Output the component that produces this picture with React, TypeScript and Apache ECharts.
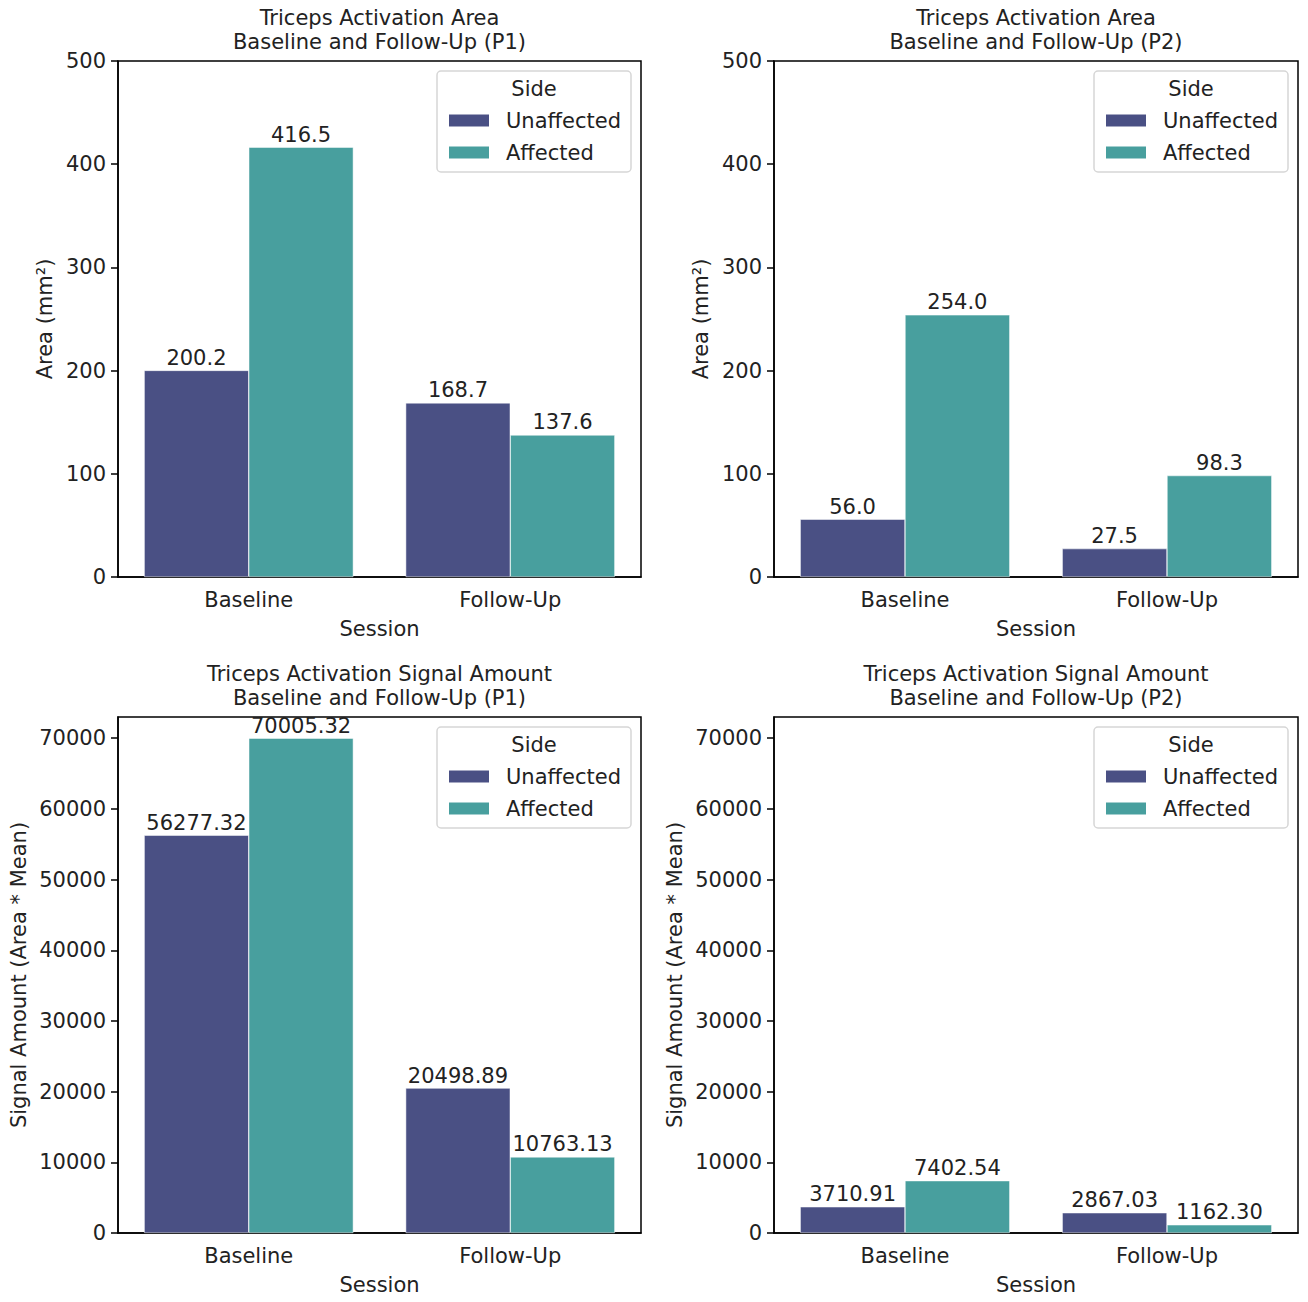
import React, { useEffect, useRef } from "react";
import * as echarts from "echarts";

const sessions = ["Baseline", "Follow-Up"];
const sides = ["Unaffected", "Affected"];

const areaP1Unaffected = [200.2, 168.7];
const areaP1Affected = [416.5, 137.6];
const areaP2Unaffected = [56.0, 27.5];
const areaP2Affected = [254.0, 98.3];

const signalP1Unaffected = [56277.32, 20498.89];
const signalP1Affected = [70005.32, 10763.13];
const signalP2Unaffected = [3710.91, 2867.03];
const signalP2Affected = [7402.54, 1162.3];

const areaTicks = [0, 100, 200, 300, 400, 500];
const signalTicks = [0, 10000, 20000, 30000, 40000, 50000, 60000, 70000];

const areaMax = 500;
const signalMax = 73000;

const titleTexts = [
  "Triceps Activation Area\nBaseline and Follow-Up (P1)",
  "Triceps Activation Area\nBaseline and Follow-Up (P2)",
  "Triceps Activation Signal Amount\nBaseline and Follow-Up (P1)",
  "Triceps Activation Signal Amount\nBaseline and Follow-Up (P2)",
];
const yNames = ["Area (mm²)", "Area (mm²)", "Signal Amount (Area * Mean)", "Signal Amount (Area * Mean)"];
const xName = "Session";
const legendTitle = "Side";

const colors = ["#4a5084", "#489f9e"];
const FONT = "DejaVu Sans";
const TXT = "#222222";
const FS = 21;

export default function App() {
  const ref = useRef<HTMLDivElement>(null);

  useEffect(() => {
    if (!ref.current) return;
    const chart = echarts.init(ref.current, null, { renderer: "svg" });

    const panels = [
      { u: areaP1Unaffected, a: areaP1Affected, ticks: areaTicks, max: areaMax, dec: 1, gap: 63 },
      { u: areaP2Unaffected, a: areaP2Affected, ticks: areaTicks, max: areaMax, dec: 1, gap: 63 },
      { u: signalP1Unaffected, a: signalP1Affected, ticks: signalTicks, max: signalMax, dec: 2, gap: 89 },
      { u: signalP2Unaffected, a: signalP2Affected, ticks: signalTicks, max: signalMax, dec: 2, gap: 89 },
    ];
    const lefts = [118, 774];
    const widths = [523, 524];
    const tops = [61, 717];
    const H = 516;

    const grids: any[] = [];
    const xAxes: any[] = [];
    const yAxes: any[] = [];
    const series: any[] = [];
    const titles: any[] = [];
    const legends: any[] = [];
    const graphics: any[] = [];

    panels.forEach((p, i) => {
      const col = i % 2;
      const row = Math.floor(i / 2);
      const L = lefts[col];
      const W = widths[col];
      const T = tops[row];
      grids.push({
        left: L,
        top: T,
        width: W,
        height: H,
        show: true,
        borderColor: "#000",
        borderWidth: 1.5,
        backgroundColor: "transparent",
        containLabel: false,
        outerBoundsMode: "none",
      });
      xAxes.push({
        type: "category",
        gridIndex: i,
        data: sessions,
        boundaryGap: true,
        axisLine: { lineStyle: { color: "#000", width: 1.5 } },
        axisTick: { alignWithLabel: true, length: 7, lineStyle: { color: "#000", width: 1.5 } },
        axisLabel: { fontSize: FS, color: TXT, fontFamily: FONT, margin: 12 },
        splitLine: { show: false },
        name: xName,
        nameLocation: "middle",
        nameGap: 41,
        nameTextStyle: { fontSize: FS, color: TXT, fontFamily: FONT },
      });
      yAxes.push({
        type: "value",
        gridIndex: i,
        min: 0,
        max: p.max,
        interval: p.ticks[1] - p.ticks[0],
        axisLine: { show: true, lineStyle: { color: "#000", width: 1.5 } },
        axisTick: { show: true, length: 7, customValues: p.ticks, lineStyle: { color: "#000", width: 1.5 } },
        axisLabel: {
          fontSize: FS,
          color: TXT,
          fontFamily: FONT,
          margin: 12,
          customValues: p.ticks,
          formatter: (v: number) => String(v),
        },
        splitLine: { show: false },
        name: yNames[i],
        nameLocation: "middle",
        nameRotate: 90,
        nameGap: p.gap,
        nameTextStyle: { fontSize: FS, color: TXT, fontFamily: FONT },
      });
      [p.u, p.a].forEach((vals, k) => {
        series.push({
          type: "bar",
          name: sides[k],
          xAxisIndex: i,
          yAxisIndex: i,
          data: vals,
          barWidth: "40%",
          barGap: "0%",
          itemStyle: { color: colors[k], borderColor: "#ffffff", borderWidth: 0.5 },
          label: {
            show: true,
            position: "top",
            distance: 2,
            fontSize: FS,
            color: TXT,
            fontFamily: FONT,
            formatter: (q: any) => Number(q.value).toFixed(p.dec),
          },
        });
      });
      titles.push({
        text: titleTexts[i],
        left: L + W / 2,
        top: T - 55,
        padding: 0,
        textAlign: "center",
        textStyle: { fontSize: FS, fontWeight: "normal", color: TXT, fontFamily: FONT, lineHeight: 24 },
      });
      const boxW = 194;
      const boxH = 101;
      const boxL = L + W - 10 - boxW;
      const boxT = T + 10;
      graphics.push({
        type: "rect",
        z: 3,
        shape: { x: boxL, y: boxT, width: boxW, height: boxH, r: 4 },
        style: { fill: "rgba(255,255,255,0.8)", stroke: "#d6d6d6", lineWidth: 1.5 },
      });
      graphics.push({
        type: "text",
        z: 4,
        x: boxL + boxW / 2,
        y: boxT + 18,
        style: {
          text: legendTitle,
          fontSize: FS,
          fontFamily: FONT,
          fill: TXT,
          align: "center",
          verticalAlign: "middle",
        },
      });
      legends.push({
        data: sides,
        orient: "vertical",
        left: boxL + 10,
        top: boxT + 39,
        itemWidth: 42,
        itemHeight: 14,
        itemGap: 11,
        icon: "rect",
        selectedMode: false,
        padding: 0,
        z: 5,
        textStyle: { fontSize: FS, color: TXT, fontFamily: FONT, lineHeight: 20, padding: [0, 0, 0, 11] },
      });
    });

    chart.setOption({
      animation: false,
      backgroundColor: "#ffffff",
      title: titles,
      grid: grids,
      xAxis: xAxes,
      yAxis: yAxes,
      legend: legends,
      series,
      graphic: graphics,
    });

    return () => chart.dispose();
  }, []);

  return (
    <div
      ref={ref}
      style={{ position: "absolute", left: 0, top: 0, width: 1308, height: 1302 }}
    />
  );
}
